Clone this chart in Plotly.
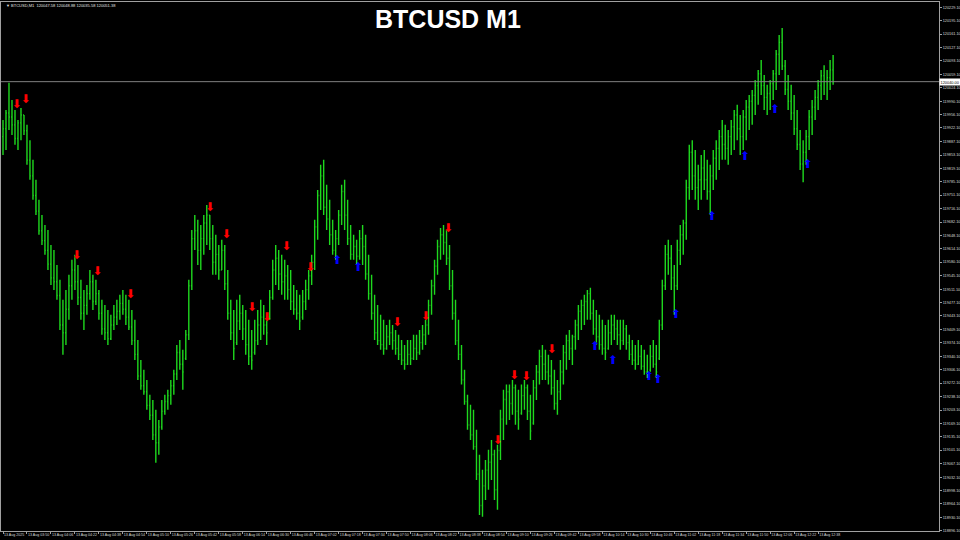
import plotly.graph_objects as go
import pandas as pd

symbol_title = "BTCUSD M1"
header_text = "▼ BTCUSD,M1  120047.58 120048.88 120035.58 120051.38"
bar_start = "2025-08-13 03:34"
bar_step = "2min"

opens = [119900,119920,119960,119950,119930,119895,119935,119955,119915,119840,
119800,119750,119710,119660,119635,119610,119575,119540,119530,119495,
119420,119400,119460,119520,119560,119530,119490,119450,119470,119500,
119530,119480,119500,119450,119410,119400,119385,119420,119440,119455,
119475,119460,119440,119415,119380,119345,119290,119265,119250,119215,
119190,119140,119120,119160,119200,119225,119240,119265,119295,119350,
119320,119335,119395,119520,119640,119660,119610,119640,119680,119700,
119640,119580,119600,119560,119610,119525,119450,119400,119375,119430,
119450,119410,119370,119340,119350,119380,119420,119440,119420,119440,
119490,119560,119590,119550,119530,119545,119510,119480,119460,119450,
119440,119480,119510,119545,119580,119670,119750,119800,119720,119690,
119650,119610,119640,119700,119760,119700,119640,119600,119620,119595,
119640,119620,119550,119500,119450,119400,119380,119370,119360,119390,
119400,119380,119360,119345,119330,119320,119345,119335,119360,119350,
119375,119395,119420,119470,119520,119570,119620,119650,119630,119590,
119520,119450,119380,119345,119280,119225,119165,119140,119110,119040,
118960,119010,119050,119070,119090,119000,119100,119180,119230,119250,
119220,119260,119200,119195,119240,119260,119200,119170,119260,119300,
119340,119320,119300,119290,119260,119220,119250,119300,119350,119380,
119360,119390,119420,119455,119470,119480,119500,119450,119410,119390,
119370,119360,119360,119400,119420,119410,119395,119380,119410,119375,
119345,119330,119320,119340,119315,119300,119305,119340,119320,119335,
119420,119520,119600,119590,119540,119520,119610,119650,119680,119770,
119860,119800,119770,119790,119820,119790,119760,119800,119845,119870,
119900,119880,119870,119900,119925,119955,119920,119900,119950,119975,
119990,120005,120030,120060,120030,120000,120010,120035,120060,120110,
120140,120080,120020,119990,119960,119920,119880,119830,119860,119900,
119950,119975,120000,120030,120055,120040,120050,120070]

highs = [119942,119968,120037,119993,119968,119942,119973,119955,119930,119891,
119841,119790,119739,119700,119675,119662,119624,119611,119573,119535,
119484,119509,119548,119586,119599,119573,119535,119509,119522,119560,
119548,119535,119509,119484,119471,119458,119446,119471,119484,119497,
119509,119497,119484,119458,119433,119382,119331,119306,119280,119242,
119229,119204,119178,119229,119242,119255,119280,119306,119369,119382,
119357,119407,119535,119662,119700,119688,119675,119700,119726,119700,
119675,119650,119624,119637,119624,119560,119484,119458,119484,119497,
119471,119458,119433,119407,119433,119458,119484,119471,119446,119509,
119586,119624,119611,119599,119586,119573,119560,119522,119509,119497,
119509,119535,119560,119599,119688,119764,119828,119841,119777,119739,
119688,119662,119713,119777,119790,119739,119675,119650,119637,119662,
119675,119650,119599,119548,119497,119471,119446,119433,119420,119433,
119420,119407,119395,119382,119369,119382,119382,119395,119395,119407,
119420,119433,119484,119535,119586,119637,119667,119675,119662,119624,
119560,119484,119433,119369,119306,119242,119217,119204,119153,119089,
119051,119076,119102,119127,119102,119115,119204,119255,119268,119268,
119280,119268,119255,119268,119280,119268,119242,119280,119318,119357,
119369,119357,119344,119331,119306,119280,119331,119369,119395,119407,
119395,119433,119471,119484,119497,119509,119515,119484,119458,119446,
119433,119420,119433,119446,119446,119433,119433,119433,119420,119395,
119382,119369,119382,119369,119357,119344,119369,119382,119369,119433,
119535,119624,119637,119624,119573,119637,119675,119688,119790,119879,
119891,119866,119828,119853,119866,119841,119828,119866,119891,119917,
119942,119930,119917,119942,119968,119981,119955,119968,119993,120006,
120019,120044,120070,120095,120057,120032,120044,120070,120121,120159,
120177,120095,120057,120032,120006,119968,119917,119891,119917,119968,
119993,120019,120044,120070,120082,120070,120095,120108]

lows = [119853,119866,119917,119904,119879,119866,119891,119904,119828,119790,
119739,119700,119650,119624,119599,119560,119522,119509,119484,119407,
119344,119369,119433,119484,119509,119471,119433,119407,119446,119484,
119458,119471,119433,119395,119382,119369,119382,119407,119420,119433,
119446,119420,119407,119369,119331,119280,119255,119242,119204,119178,
119127,119069,119089,119153,119191,119204,119217,119242,119280,119306,
119255,119331,119382,119509,119611,119573,119560,119599,119624,119611,
119548,119548,119535,119560,119509,119433,119382,119331,119369,119407,
119382,119344,119318,119306,119344,119369,119382,119395,119369,119433,
119484,119522,119509,119497,119484,119484,119458,119446,119433,119407,
119433,119458,119484,119522,119560,119637,119713,119700,119662,119624,
119599,119586,119624,119675,119662,119624,119586,119586,119573,119586,
119573,119535,119484,119433,119382,119369,119357,119344,119357,119369,
119357,119344,119331,119318,119306,119318,119318,119331,119331,119344,
119357,119369,119395,119446,119497,119548,119586,119599,119573,119509,
119433,119369,119331,119268,119217,119153,119127,119102,119025,118936,
118931,118974,119000,119025,118974,118949,119076,119127,119166,119178,
119191,119166,119153,119191,119204,119178,119127,119166,119229,119268,
119280,119280,119268,119242,119204,119191,119229,119268,119306,119331,
119318,119357,119382,119407,119420,119433,119433,119395,119369,119357,
119344,119331,119357,119369,119382,119369,119357,119369,119357,119331,
119318,119306,119318,119306,119293,119285,119301,119311,119285,119331,
119407,119509,119548,119509,119446,119509,119573,119599,119637,119739,
119764,119739,119713,119739,119764,119739,119700,119764,119790,119815,
119841,119841,119828,119853,119866,119891,119853,119866,119891,119917,
119930,119955,119981,120006,119968,119955,119968,119993,120019,120057,
120070,120006,119968,119942,119904,119866,119815,119784,119828,119866,
119904,119942,119968,119993,120006,119993,120019,120032]

closes = [119920,119960,119950,119930,119895,119935,119955,119915,119840,119800,
119750,119710,119660,119635,119610,119575,119540,119530,119495,119420,
119400,119460,119520,119560,119530,119490,119450,119470,119500,119530,
119480,119500,119450,119410,119400,119385,119420,119440,119455,119475,
119460,119440,119415,119380,119345,119290,119265,119250,119215,119190,
119140,119120,119160,119200,119225,119240,119265,119295,119350,119320,
119300,119395,119520,119640,119660,119610,119640,119680,119700,119640,
119580,119600,119560,119610,119525,119450,119400,119360,119430,119450,
119410,119370,119340,119330,119380,119420,119440,119420,119400,119490,
119560,119590,119550,119530,119545,119510,119480,119460,119450,119430,
119480,119510,119545,119580,119670,119750,119800,119720,119690,119650,
119610,119640,119700,119760,119700,119640,119600,119620,119595,119640,
119620,119550,119500,119450,119400,119380,119370,119360,119390,119400,
119380,119360,119345,119330,119320,119345,119335,119360,119350,119375,
119395,119420,119470,119520,119570,119620,119650,119630,119590,119520,
119450,119380,119345,119280,119225,119165,119140,119110,119040,118960,
119010,119050,119070,119090,119000,119100,119180,119230,119250,119220,
119260,119200,119180,119240,119260,119200,119150,119260,119300,119340,
119320,119300,119290,119260,119220,119250,119300,119350,119380,119360,
119390,119420,119455,119470,119480,119500,119450,119410,119390,119370,
119360,119350,119400,119420,119410,119395,119380,119410,119375,119345,
119330,119320,119340,119315,119300,119295,119340,119320,119300,119420,
119520,119600,119590,119540,119520,119610,119650,119680,119770,119860,
119800,119770,119790,119820,119790,119760,119800,119845,119870,119900,
119880,119870,119900,119925,119955,119920,119900,119950,119975,119990,
120005,120030,120060,120030,120000,120010,120035,120060,120110,120140,
120080,120020,119990,119960,119920,119880,119830,119860,119900,119950,
119975,120000,120030,120055,120040,120050,120070,120040]

sell_times = ["2025-08-13 03:43","2025-08-13 03:49","2025-08-13 04:23","2025-08-13 04:37",
"2025-08-13 04:59","2025-08-13 05:52","2025-08-13 06:03","2025-08-13 06:20",
"2025-08-13 06:30","2025-08-13 06:43","2025-08-13 06:59","2025-08-13 07:57",
"2025-08-13 08:16","2025-08-13 08:31","2025-08-13 09:04","2025-08-13 09:15",
"2025-08-13 09:23","2025-08-13 09:40"]
sell_prices = [119981,119993,119596,119555,119497,119718,119650,119464,119438,119619,
119565,119425,119441,119665,119125,119290,119288,119357]

buy_times = ["2025-08-13 07:17","2025-08-13 07:31","2025-08-13 10:09","2025-08-13 10:21",
"2025-08-13 10:45","2025-08-13 10:51","2025-08-13 11:03","2025-08-13 11:27",
"2025-08-13 11:49","2025-08-13 12:09","2025-08-13 12:31"]
buy_prices = [119583,119565,119364,119329,119288,119280,119446,119695,119848,119968,119828]

time_ticks = ["2025-08-13 03:34","2025-08-13 03:50","2025-08-13 04:06","2025-08-13 04:22",
"2025-08-13 04:38","2025-08-13 04:54","2025-08-13 05:10","2025-08-13 05:26",
"2025-08-13 05:42","2025-08-13 05:58","2025-08-13 06:14","2025-08-13 06:30",
"2025-08-13 06:46","2025-08-13 07:02","2025-08-13 07:18","2025-08-13 07:34",
"2025-08-13 07:50","2025-08-13 08:06","2025-08-13 08:22","2025-08-13 08:38",
"2025-08-13 08:54","2025-08-13 09:10","2025-08-13 09:26","2025-08-13 09:42",
"2025-08-13 09:58","2025-08-13 10:14","2025-08-13 10:30","2025-08-13 10:46",
"2025-08-13 11:02","2025-08-13 11:18","2025-08-13 11:34","2025-08-13 11:50",
"2025-08-13 12:06","2025-08-13 12:22","2025-08-13 12:38"]
time_labels = ["13 Aug 2025","13 Aug 03:50","13 Aug 04:06","13 Aug 04:22","13 Aug 04:38",
"13 Aug 04:54","13 Aug 05:10","13 Aug 05:26","13 Aug 05:42","13 Aug 05:58",
"13 Aug 06:14","13 Aug 06:30","13 Aug 06:46","13 Aug 07:02","13 Aug 07:18",
"13 Aug 07:34","13 Aug 07:50","13 Aug 08:06","13 Aug 08:22","13 Aug 08:38",
"13 Aug 08:54","13 Aug 09:10","13 Aug 09:26","13 Aug 09:42","13 Aug 09:58",
"13 Aug 10:14","13 Aug 10:30","13 Aug 10:46","13 Aug 11:02","13 Aug 11:18",
"13 Aug 11:34","13 Aug 11:50","13 Aug 12:06","13 Aug 12:22","13 Aug 12:38"]

price_ticks = [118896.1,118930.1,118964.1,118998.1,119032.1,119067.1,119101.1,119135.1,
119169.1,119203.1,119238.1,119272.1,119306.1,119340.1,119374.1,119409.1,119443.1,
119477.1,119511.1,119545.1,119580.1,119614.1,119648.1,119682.1,119716.1,119751.1,
119785.1,119819.1,119853.1,119887.1,119922.1,119956.1,119990.1,120024.1,120059.1,
120093.1,120127.1,120161.1,120195.1,120229.1]

x_range = ["2025-08-13 03:32:40", "2025-08-13 13:58:40"]
y_range = [118895, 120243]

bar_times = pd.date_range(bar_start, periods=len(closes), freq=bar_step)

fig = go.Figure()
fig.add_trace(go.Ohlc(
    x=bar_times, open=opens, high=highs, low=lows, close=closes,
    increasing=dict(line=dict(color="#1ed81e", width=1.4)),
    decreasing=dict(line=dict(color="#1ed81e", width=1.4)),
    tickwidth=0.3, showlegend=False, hoverinfo="skip"))

fig.add_trace(go.Scatter(
    x=pd.to_datetime(sell_times), y=sell_prices, mode="text",
    text=["⬇"] * len(sell_times), textposition="middle center",
    textfont=dict(family="DejaVu Sans", size=12, color="#ff0000"),
    showlegend=False, hoverinfo="skip"))
fig.add_trace(go.Scatter(
    x=pd.to_datetime(buy_times), y=buy_prices, mode="text",
    text=["⬆"] * len(buy_times), textposition="middle center",
    textfont=dict(family="DejaVu Sans", size=12, color="#0000ff"),
    showlegend=False, hoverinfo="skip"))

last_price = closes[-1]
fig.add_shape(type="line", xref="paper", x0=0, x1=1, yref="y", y0=last_price, y1=last_price,
              line=dict(color="#808080", width=1))

fig.add_annotation(xref="paper", x=1.0005, yref="y", y=last_price, xanchor="left", yanchor="middle",
                   text=f"{last_price:.2f}", showarrow=False, bgcolor="#ffffff",
                   font=dict(family="Liberation Sans, Arial", size=3.9, color="#000000"),
                   borderpad=0.5)
fig.add_annotation(xref="paper", x=0.477, yref="paper", y=0.968, xanchor="center", yanchor="middle",
                   text=f"<b>{symbol_title}</b>", showarrow=False,
                   font=dict(family="Liberation Sans, Arial", size=25, color="#ffffff"))
fig.add_annotation(xref="paper", x=0.003, yref="paper", y=0.993, xanchor="left", yanchor="middle",
                   text=header_text, showarrow=False,
                   font=dict(family="Liberation Sans, Arial", size=4, color="#e0e0e0"))

fig.update_layout(
    width=960, height=540,
    paper_bgcolor="#000000", plot_bgcolor="#000000",
    margin=dict(l=1, r=21, t=2, b=9, autoexpand=False),
    xaxis=dict(type="date", range=x_range, rangeslider=dict(visible=False),
               tickvals=pd.to_datetime(time_ticks), ticktext=time_labels,
               tickangle=0, automargin=False, ticklabelposition="outside right",
               tickfont=dict(family="Liberation Sans, Arial", size=3.6, color="#d8d8d8"),
               ticks="outside", ticklen=2, tickcolor="#a0a0a0",
               showgrid=False, zeroline=False,
               showline=True, linecolor="#a0a0a0", linewidth=1, mirror=True),
    yaxis=dict(side="right", range=y_range, tickvals=price_ticks, tickformat=".2f",
               automargin=False,
               tickfont=dict(family="Liberation Sans, Arial", size=3.8, color="#d8d8d8"),
               ticks="outside", ticklen=2, tickcolor="#a0a0a0",
               showgrid=False, zeroline=False,
               showline=True, linecolor="#a0a0a0", linewidth=1, mirror=True),
)

fig.write_html("out.html", config={"displayModeBar": False},
               post_script="document.body.style.margin='0';document.body.style.background='#000';")
